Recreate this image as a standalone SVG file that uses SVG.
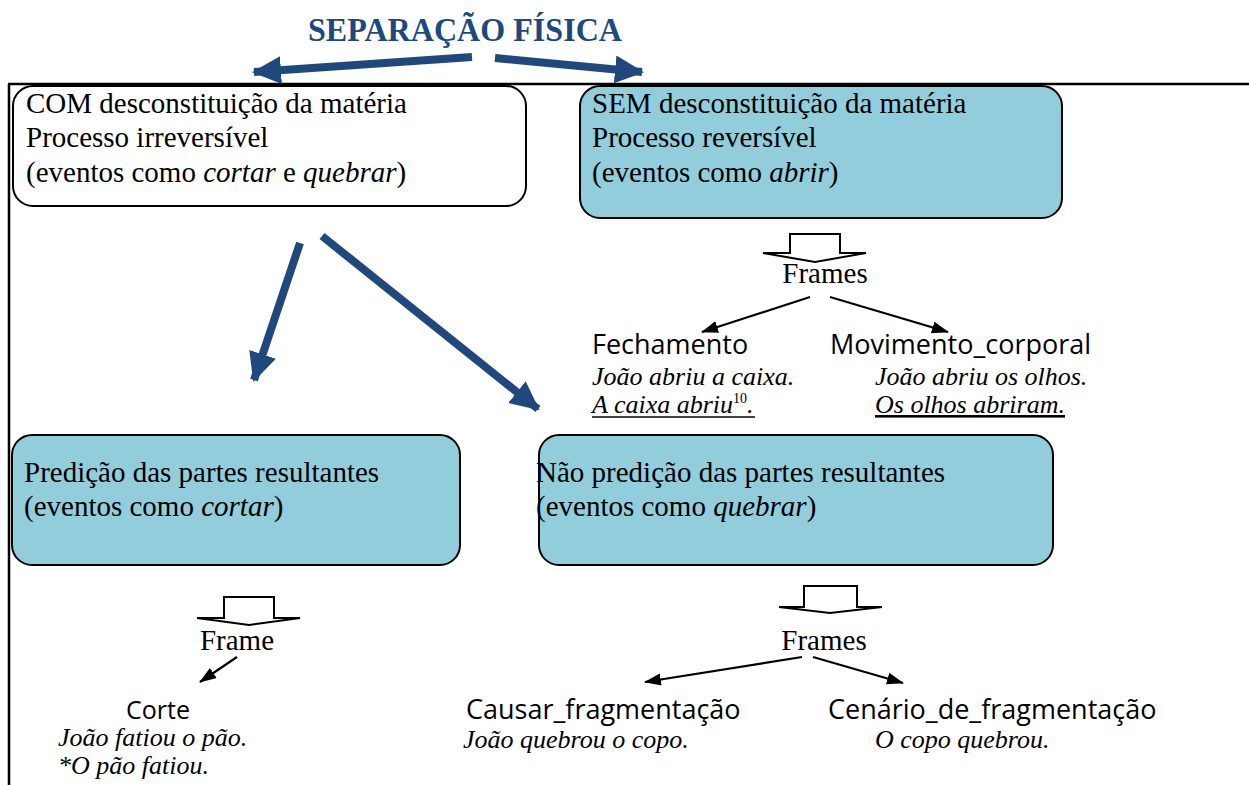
<svg xmlns="http://www.w3.org/2000/svg" width="1249" height="785" viewBox="0 0 1249 785">
<style>
.t{font-family:"Liberation Serif","Times New Roman",serif;font-size:29px;fill:#000}
.ex{font-family:"Liberation Serif","Times New Roman",serif;font-size:26px;font-style:italic;fill:#000}
.fr{font-family:"Open Sans","Noto Sans",sans-serif;font-size:27px;fill:#000}
.i{font-style:italic}
.box{stroke:#000;stroke-width:2}
.blue{fill:#92CDDC}
.bl{stroke:#1F497D;stroke-width:8;fill:none}
.blk{stroke:#000;stroke-width:2.2;fill:none}
.hollow{fill:#fff;stroke:#000;stroke-width:2}
</style>
<defs>
<marker id="bh" markerUnits="userSpaceOnUse" markerWidth="32" markerHeight="30" refX="27" refY="14" orient="auto">
<path d="M0,0 L29,14 L0,28 Z" fill="#1F497D"/>
</marker>
<marker id="kh" markerUnits="userSpaceOnUse" markerWidth="18" markerHeight="14" refX="16" refY="6" orient="auto">
<path d="M0,0 L17,6 L0,12 Z" fill="#000"/>
</marker>
</defs>
<rect width="1249" height="785" fill="#fff"/>
<g id="frame">
<line x1="8" y1="84" x2="1249" y2="84" stroke="#000" stroke-width="2.5"/>
<line x1="9" y1="84" x2="9" y2="785" stroke="#000" stroke-width="2.5"/>
</g>
<g id="title">
<text x="308" y="41" textLength="314" lengthAdjust="spacingAndGlyphs" style="font-family:'Liberation Serif','Times New Roman',serif;font-size:34px;font-weight:bold;fill:#1F497D">SEPARAÇÃO FÍSICA</text>
</g>
<g id="connectors">
<line class="bl" x1="472" y1="57" x2="254" y2="72" marker-end="url(#bh)"/>
<line class="bl" x1="495" y1="58" x2="642" y2="72" marker-end="url(#bh)"/>
<line class="bl" x1="300" y1="243" x2="254" y2="380" marker-end="url(#bh)"/>
<line class="bl" x1="322" y1="236" x2="538" y2="409" marker-end="url(#bh)"/>
<line class="blk" x1="810" y1="297" x2="702" y2="332" marker-end="url(#kh)"/>
<line class="blk" x1="830" y1="297" x2="948" y2="332" marker-end="url(#kh)"/>
<line class="blk" x1="237" y1="657" x2="200" y2="682" marker-end="url(#kh)"/>
<line class="blk" x1="802" y1="657" x2="645" y2="682" marker-end="url(#kh)"/>
<line class="blk" x1="813" y1="657" x2="903" y2="683" marker-end="url(#kh)"/>
<path class="hollow" d="M790,253 V234 H840 V253 H866 L815,262 L763,253 Z"/>
<path class="hollow" d="M224,618 V597 H274 V618 H300 L249,625 L197,618 Z"/>
<path class="hollow" d="M804,607 V586 H857 V607 H882 L830,613 L779,607 Z"/>
</g>
<g id="box-com">
<rect class="box" x="13" y="86" width="513" height="120" rx="20" fill="#fff"/>
<text class="t" x="26" y="113">COM desconstituição da matéria</text>
<text class="t" x="26" y="147">Processo irreversível</text>
<text class="t" x="26" y="182">(eventos como <tspan class="i">cortar</tspan> e <tspan class="i">quebrar</tspan>)</text>
</g>
<g id="box-sem">
<rect class="box blue" x="580" y="86" width="482" height="132" rx="20"/>
<text class="t" x="592" y="113">SEM desconstituição da matéria</text>
<text class="t" x="592" y="147">Processo reversível</text>
<text class="t" x="592" y="182">(eventos como <tspan class="i">abrir</tspan>)</text>
</g>
<g id="frames-sem">
<text class="t" x="825" y="283" text-anchor="middle">Frames</text>
</g>
<g id="fechamento">
<text class="fr" x="592" y="354">Fechamento</text>
<text class="ex" x="592" y="385">João abriu a caixa.</text>
<text class="ex" x="592" y="413">A caixa abriu<tspan font-size="14" font-style="normal" dy="-10">10</tspan><tspan dy="10">.</tspan></text>
<line x1="592" y1="417" x2="755" y2="417" stroke="#000" stroke-width="1.5"/>
</g>
<g id="movimento">
<text class="fr" x="830" y="354">Movimento_corporal</text>
<text class="ex" x="875" y="385">João abriu os olhos.</text>
<text class="ex" x="875" y="413" text-decoration="underline">Os olhos abriram.</text>
</g>
<g id="box-pred">
<rect class="box blue" x="12" y="435" width="448" height="130" rx="20"/>
<text class="t" x="24" y="482">Predição das partes resultantes</text>
<text class="t" x="24" y="516">(eventos como <tspan class="i">cortar</tspan>)</text>
</g>
<g id="box-naopred">
<rect class="box blue" x="539" y="435" width="514" height="130" rx="20"/>
<text class="t" x="536" y="482">Não predição das partes resultantes</text>
<text class="t" x="536" y="516">(eventos como <tspan class="i">quebrar</tspan>)</text>
</g>
<g id="frame-pred">
<text class="t" x="237" y="650" text-anchor="middle">Frame</text>
</g>
<g id="corte">
<text class="fr" x="126" y="719" style="font-size:25px">Corte</text>
<text class="ex" x="58" y="746">João fatiou o pão.</text>
<text class="ex" x="58" y="774">*O pão fatiou.</text>
</g>
<g id="frames-naopred">
<text class="t" x="824" y="650" text-anchor="middle">Frames</text>
</g>
<g id="causar">
<text class="fr" x="466" y="719">Causar_fragmentação</text>
<text class="ex" x="463" y="748">João quebrou o copo.</text>
</g>
<g id="cenario">
<text class="fr" x="828" y="719">Cenário_de_fragmentação</text>
<text class="ex" x="875" y="748">O copo quebrou.</text>
</g>
</svg>
